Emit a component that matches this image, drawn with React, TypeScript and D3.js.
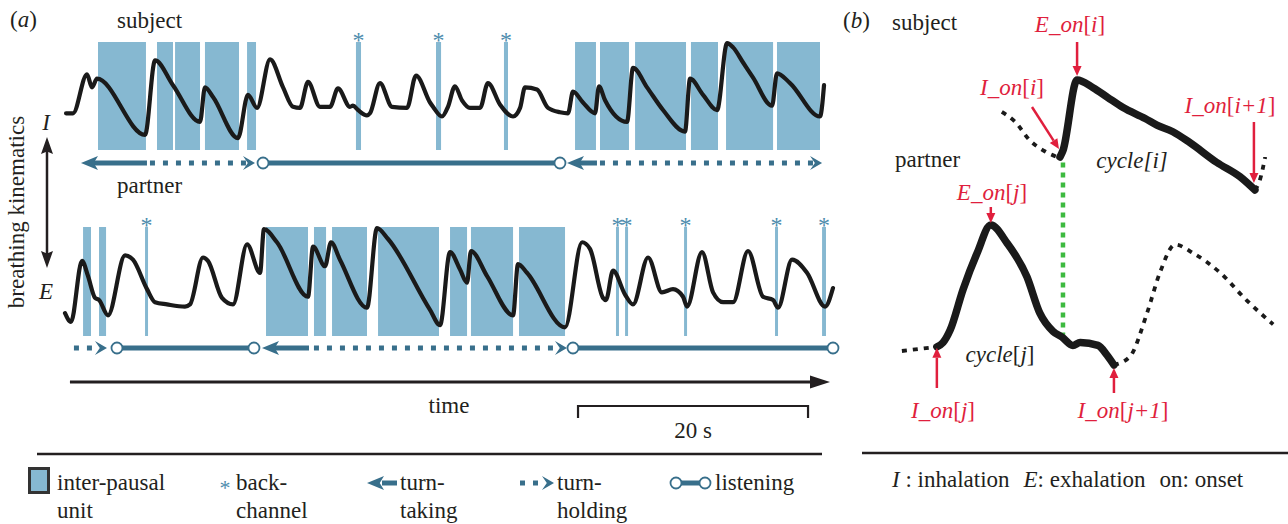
import React from 'react';
import * as d3 from 'd3';

// ---------- DATA : panel (a) ----------
// time in seconds, breathing value normalised 0 (end of exhalation) .. 1 (end of inhalation)
const subjectTrace: [number, number][] = [
  [0.09, 0.34], [0.7, 0.34], [1.91, 0.7], [2.35, 0.58], [2.78, 0.66], [6.96, 0.14], [7.83, 0.83],
  [9.39, 0.6], [11.74, 0.26], [12.17, 0.58], [12.87, 0.49], [15.04, 0.11], [15.91, 0.51], [16.7, 0.39],
  [17.83, 0.84], [18.96, 0.58], [19.83, 0.4], [20.43, 0.39], [21.13, 0.63], [22.17, 0.4], [23.04, 0.4],
  [23.74, 0.57], [24.78, 0.4], [25.04, 0.41], [25.48, 0.37], [26.26, 0.32], [26.52, 0.34], [27.39, 0.62],
  [28.43, 0.4], [29.74, 0.39], [30.52, 0.69], [31.74, 0.44], [32.0, 0.4], [32.78, 0.31], [33.3, 0.4],
  [33.91, 0.59], [34.52, 0.46], [35.22, 0.39], [36.09, 0.39], [36.78, 0.62], [37.83, 0.42], [38.96, 0.31],
  [39.57, 0.39], [40.0, 0.58], [41.04, 0.56], [42.0, 0.39], [43.04, 0.35], [43.74, 0.34], [44.17, 0.54],
  [45.04, 0.44], [46.09, 0.34], [46.43, 0.59], [46.96, 0.46], [48.87, 0.26], [49.39, 0.76], [50.61, 0.58],
  [52.0, 0.37], [53.91, 0.17], [54.35, 0.66], [55.48, 0.51], [56.7, 0.37], [57.57, 0.99], [58.09, 0.95],
  [58.96, 0.81], [59.83, 0.67], [61.48, 0.41], [61.91, 0.71], [63.04, 0.62], [65.65, 0.31], [66.0, 0.6],
];
const partnerTrace: [number, number][] = [
  [0.0, 0.21], [0.52, 0.13], [1.48, 0.69], [2.0, 0.55], [2.61, 0.35], [2.96, 0.33], [3.74, 0.19],
  [5.22, 0.74], [5.91, 0.7], [7.13, 0.43], [7.83, 0.31], [8.87, 0.29], [10.43, 0.27], [10.87, 0.29],
  [12.0, 0.72], [12.43, 0.69], [13.65, 0.35], [14.61, 0.29], [15.83, 0.84], [16.96, 0.58], [17.3, 0.98],
  [18.43, 0.86], [21.13, 0.36], [21.57, 0.82], [22.61, 0.64], [23.13, 0.86], [23.91, 0.7], [26.26, 0.26],
  [27.13, 0.99], [28.09, 0.89], [31.74, 0.24], [32.61, 0.1], [33.48, 0.77], [34.35, 0.61], [34.96, 0.49],
  [35.3, 0.78], [36.7, 0.55], [38.96, 0.19], [39.39, 0.66], [40.17, 0.58], [43.48, 0.08], [44.96, 0.86],
  [45.65, 0.8], [46.78, 0.35], [47.04, 0.33], [47.65, 0.6], [48.7, 0.38], [49.39, 0.29], [50.7, 0.72],
  [51.91, 0.4], [52.87, 0.43], [53.74, 0.36], [54.09, 0.27], [55.39, 0.77], [56.35, 0.4], [57.22, 0.31],
  [58.09, 0.31], [59.39, 0.78], [60.7, 0.36], [61.57, 0.33], [62.0, 0.26], [63.22, 0.7], [64.52, 0.58],
  [66.09, 0.27], [66.78, 0.44],
];
// inter-pausal units [start, end] in s
const subjectIPU: [number, number][] = [
  [2.87, 7.04], [8.0, 9.39], [9.57, 11.74], [12.17, 15.13], [15.83, 16.61],
  [44.35, 46.17], [46.52, 49.04], [49.57, 54.0], [54.43, 56.78], [57.48, 61.57], [61.91, 65.65],
];
const partnerIPU: [number, number][] = [
  [1.57, 2.26], [2.96, 3.57], [17.48, 21.13], [21.65, 22.7], [23.22, 26.26], [27.22, 32.52],
  [33.48, 34.96], [35.3, 38.96], [39.48, 43.48],
];
// back-channels [start, end] in s
const subjectBackchannel: [number, number][] = [[25.3, 25.74], [32.26, 32.7], [38.17, 38.52]];
const partnerBackchannel: [number, number][] = [
  [6.96, 7.22], [47.91, 48.17], [48.7, 48.96], [53.83, 54.09], [61.74, 62.0], [65.83, 66.17],
];
type Turn = { kind: 'taking' | 'holding' | 'listening'; from: number; to: number };
const subjectTurns: Turn[] = [
  { kind: 'taking', from: 7.04, to: 1.39 },
  { kind: 'holding', from: 7.04, to: 16.52 },
  { kind: 'listening', from: 17.22, to: 43.04 },
  { kind: 'taking', from: 46.17, to: 43.65 },
  { kind: 'holding', from: 46.17, to: 65.83 },
];
const partnerTurns: Turn[] = [
  { kind: 'holding', from: 0.43, to: 3.65 },
  { kind: 'listening', from: 4.52, to: 16.43 },
  { kind: 'taking', from: 21.13, to: 17.13 },
  { kind: 'holding', from: 21.3, to: 43.65 },
  { kind: 'listening', from: 44.17, to: 66.78 },
];
const scaleBar: [number, number] = [44.61, 64.61]; // 20 s
const scaleBarLabel = '20 s';

// ---------- DATA : panel (b) ----------
const subjCyclePre: [number, number][] = [[2.68, 0.71], [3.03, 0.62], [3.42, 0.45], [3.82, 0.35], [4.13, 0.3]];
const subjCycle: [number, number][] = [
  [4.21, 0.3], [4.29, 0.36], [4.66, 1.0], [5.08, 0.93], [5.47, 0.84], [5.87, 0.75], [6.45, 0.65], [6.76, 0.59],
  [7.18, 0.53], [7.63, 0.43], [8.34, 0.25], [8.95, 0.12], [9.34, 0.0],
];
const subjCyclePost: [number, number][] = [[9.34, 0.0], [9.47, 0.09], [9.61, 0.3]];
const partCyclePre: [number, number][] = [[0.05, 0.1], [0.97, 0.13]];
const partCycle: [number, number][] = [
  [0.97, 0.13], [1.13, 0.16], [1.32, 0.25], [1.66, 0.54], [2.03, 0.8], [2.39, 1.0], [2.82, 0.87],
  [3.34, 0.63], [3.68, 0.37], [4.03, 0.24], [4.26, 0.2], [4.55, 0.14], [4.74, 0.16], [5.21, 0.14],
  [5.45, 0.07], [5.63, 0.0],
];
const partCyclePost: [number, number][] = [
  [5.63, 0.0], [6.05, 0.06], [6.5, 0.37], [6.84, 0.66], [7.24, 0.86], [7.71, 0.8], [8.42, 0.66],
  [9.13, 0.46], [9.82, 0.29],
];

// ---------- STYLE ----------
const FONT = "'Liberation Serif', 'Times New Roman', 'DejaVu Serif', serif";
const INK = '#231f20';
const IPU_FILL = '#86b8d1';
const TEAL = '#386f8b';
const STAR = '#4d8cad';
const RED = '#e01f3d';
const GREEN = '#3dba3f';

const W = 1288, H = 524;

function arrowHead(tx: number, ty: number, dir: number, L: number, Wd: number, notch = 0.7) {
  return `M${tx},${ty}L${tx - dir * L},${ty - Wd}L${tx - dir * L * notch},${ty}L${tx - dir * L},${ty + Wd}Z`;
}
function vArrowHead(tx: number, ty: number, dir: number, L: number, Wd: number, notch = 1) {
  return `M${tx},${ty}L${tx - Wd},${ty - dir * L}L${tx},${ty - dir * L * notch}L${tx + Wd},${ty - dir * L}Z`;
}

function TurnRow({ turns, y, x }: { turns: Turn[]; y: number; x: (v: number) => number }) {
  return (
    <g>
      {turns.map((s, i) => {
        const x0 = x(s.from), x1 = x(s.to);
        const dir = Math.sign(x1 - x0);
        if (s.kind === 'listening') {
          return (
            <g key={i}>
              <line x1={x0} x2={x1} y1={y} y2={y} stroke={TEAL} strokeWidth={5} />
              <circle cx={x0} cy={y} r={5.5} fill="#fff" stroke={TEAL} strokeWidth={1.8} />
              <circle cx={x1} cy={y} r={5.5} fill="#fff" stroke={TEAL} strokeWidth={1.8} />
            </g>
          );
        }
        if (s.kind === 'taking') {
          return (
            <g key={i}>
              <line x1={x0 - dir * 1} x2={x1 - dir * 10} y1={y} y2={y} stroke={TEAL} strokeWidth={5} />
              <path d={arrowHead(x1, y, dir, 17, 7, 0.75)} fill={TEAL} />
            </g>
          );
        }
        return (
          <g key={i}>
            <line x1={x0 + dir * 4} x2={x1 - dir * 9} y1={y} y2={y} stroke={TEAL} strokeWidth={5}
              strokeDasharray="5 8" />
            <path d={arrowHead(x1, y, dir, 12, 7, 0.6)} fill={TEAL} />
          </g>
        );
      })}
    </g>
  );
}

export default function App() {
  const xA = d3.scaleLinear().domain([0, 66.52]).range([65, 830]);
  const ySubA = d3.scaleLinear().domain([0, 1]).range([150, 42]);
  const yParA = d3.scaleLinear().domain([0, 1]).range([336, 227]);
  const lineSubA = d3.line<[number, number]>().x(d => xA(d[0])).y(d => ySubA(d[1])).curve(d3.curveMonotoneX);
  const lineParA = d3.line<[number, number]>().x(d => xA(d[0])).y(d => yParA(d[1])).curve(d3.curveMonotoneX);

  const xB = d3.scaleLinear().domain([0, 10]).range([900, 1280]);
  const ySubB = d3.scaleLinear().domain([0, 1]).range([190, 80]);
  const yParB = d3.scaleLinear().domain([0, 1]).range([365, 225]);
  const lineSubB = d3.line<[number, number]>().x(d => xB(d[0])).y(d => ySubB(d[1])).curve(d3.curveMonotoneX);
  const lineParB = d3.line<[number, number]>().x(d => xB(d[0])).y(d => yParB(d[1])).curve(d3.curveMonotoneX);

  const T = (props: any) => <text fontFamily={FONT} fontSize={23} fill={INK} {...props} />;

  const ipuRects = (ipus: [number, number][], y: d3.ScaleLinear<number, number>) =>
    ipus.map((d, i) => (
      <rect key={i} x={xA(d[0])} width={xA(d[1]) - xA(d[0])} y={y(1)} height={y(0) - y(1)} fill={IPU_FILL} />
    ));
  const bcMarks = (bcs: [number, number][], y: d3.ScaleLinear<number, number>) =>
    bcs.map((d, i) => (
      <g key={i}>
        <rect x={xA(d[0])} width={xA(d[1]) - xA(d[0])} y={y(1)} height={y(0) - y(1)} fill={IPU_FILL} />
        <text x={xA((d[0] + d[1]) / 2)} y={y(1) + 6} textAnchor="middle" fontFamily={FONT} fontSize={24} fill={STAR}>*</text>
      </g>
    ));

  const pEi: [number, number] = [xB(subjCycle[2][0]), ySubB(subjCycle[2][1])];
  const pIi: [number, number] = [xB(subjCycle[0][0]), ySubB(subjCycle[0][1])];
  const pIi1: [number, number] = [xB(subjCycle[subjCycle.length - 1][0]), ySubB(subjCycle[subjCycle.length - 1][1])];
  const pEj: [number, number] = [xB(partCycle[5][0]), yParB(partCycle[5][1])];
  const pIj: [number, number] = [xB(partCycle[0][0]), yParB(partCycle[0][1])];
  const pIj1: [number, number] = [xB(partCycle[partCycle.length - 1][0]), yParB(partCycle[partCycle.length - 1][1])];

  const redArrow = (x1: number, y1: number, x2: number, y2: number, key: string) => {
    const ang = Math.atan2(y2 - y1, x2 - x1);
    const L = 10, Wd = 4.5;
    const bx = x2 - L * Math.cos(ang), by = y2 - L * Math.sin(ang);
    const px = -Math.sin(ang) * Wd, py = Math.cos(ang) * Wd;
    return (
      <g key={key}>
        <line x1={x1} y1={y1} x2={bx} y2={by} stroke={RED} strokeWidth={2.5} />
        <path d={`M${x2},${y2}L${bx + px},${by + py}L${bx - px},${by - py}Z`} fill={RED} />
      </g>
    );
  };

  const it = (s: string) => <tspan fontStyle="italic">{s}</tspan>;

  return (
    <svg width={W} height={H} style={{ position: 'absolute', left: 0, top: 0, background: '#fff' }}>
      <rect width={W} height={H} fill="#fff" />
      {/* ---------------- panel (a) ---------------- */}
      <T x={10} y={27}>({it('a')})</T>
      <T x={117} y={28}>subject</T>
      <T x={117} y={193}>partner</T>

      {ipuRects(subjectIPU, ySubA)}
      {bcMarks(subjectBackchannel, ySubA)}
      {ipuRects(partnerIPU, yParA)}
      {bcMarks(partnerBackchannel, yParA)}

      <path d={lineSubA(subjectTrace) || ''} fill="none" stroke="#1a1a1a" strokeWidth={4.2} strokeLinejoin="round" strokeLinecap="round" />
      <path d={lineParA(partnerTrace) || ''} fill="none" stroke="#1a1a1a" strokeWidth={4.2} strokeLinejoin="round" strokeLinecap="round" />

      <TurnRow turns={subjectTurns} y={163} x={xA} />
      <TurnRow turns={partnerTurns} y={348} x={xA} />

      <text transform="translate(24,212) rotate(-90)" textAnchor="middle" fontFamily={FONT} fontSize={23} fill={INK}>breathing kinematics</text>
      <T x={46} y={130} textAnchor="middle" fontStyle="italic">I</T>
      <T x={46} y={299} textAnchor="middle" fontStyle="italic">E</T>
      <line x1={47} x2={47} y1={150} y2={255} stroke={INK} strokeWidth={2.5} />
      <path d={vArrowHead(47, 137, -1, 17, 6, 0.85)} fill={INK} />
      <path d={vArrowHead(47, 268, 1, 17, 6, 0.85)} fill={INK} />

      <line x1={xA(0.43)} x2={xA(66.52) - 15} y1={382} y2={382} stroke={INK} strokeWidth={3.2} />
      <path d={arrowHead(xA(66.52), 382, 1, 20, 6.5, 1)} fill={INK} />
      <T x={449} y={413} textAnchor="middle">time</T>
      <path d={`M${xA(scaleBar[0])},418V406H${xA(scaleBar[1])}V418`} fill="none" stroke={INK} strokeWidth={2.2} />
      <T x={(xA(scaleBar[0]) + xA(scaleBar[1])) / 2} y={438} textAnchor="middle">{scaleBarLabel}</T>

      <line x1={37} x2={822} y1={454} y2={454} stroke={INK} strokeWidth={2.5} />

      {/* legend */}
      <rect x={29.5} y={468.5} width={19} height={24} fill={IPU_FILL} stroke="#333" strokeWidth={3} />
      <T x={57} y={490}>inter-pausal</T>
      <T x={57} y={518}>unit</T>
      <text x={225} y={495} textAnchor="middle" fontFamily={FONT} fontSize={22} fill={STAR}>*</text>
      <T x={236} y={490}>back-</T>
      <T x={236} y={518}>channel</T>
      <line x1={382} x2={397} y1={483} y2={483} stroke={TEAL} strokeWidth={5} />
      <path d={arrowHead(367, 483, -1, 17, 7, 0.75)} fill={TEAL} />
      <T x={400} y={490}>turn-</T>
      <T x={400} y={518}>taking</T>
      <line x1={520} x2={544} y1={483} y2={483} stroke={TEAL} strokeWidth={5} strokeDasharray="5 8" />
      <path d={arrowHead(554, 483, 1, 12, 7, 0.6)} fill={TEAL} />
      <T x={557} y={490}>turn-</T>
      <T x={557} y={518}>holding</T>
      <line x1={676} x2={705} y1={483} y2={483} stroke={TEAL} strokeWidth={5} />
      <circle cx={676} cy={483} r={5.5} fill="#fff" stroke={TEAL} strokeWidth={1.8} />
      <circle cx={705} cy={483} r={5.5} fill="#fff" stroke={TEAL} strokeWidth={1.8} />
      <T x={715} y={490}>listening</T>

      {/* ---------------- panel (b) ---------------- */}
      <T x={843} y={28}>({it('b')})</T>
      <T x={892} y={30}>subject</T>
      <T x={895} y={167}>partner</T>

      <line x1={pIi[0] + 3} x2={pIi[0] + 3} y1={ySubB(0.25)} y2={yParB(0.2)} stroke={GREEN} strokeWidth={4.5} strokeDasharray="5 5" />

      <path d={lineSubB(subjCyclePre) || ''} fill="none" stroke="#1a1a1a" strokeWidth={3.8} strokeDasharray="5 6" />
      <path d={lineSubB(subjCyclePost) || ''} fill="none" stroke="#1a1a1a" strokeWidth={3.8} strokeDasharray="5 6" />
      <path d={lineSubB(subjCycle) || ''} fill="none" stroke="#1a1a1a" strokeWidth={7.5} strokeLinejoin="round" strokeLinecap="round" />
      <path d={lineParB(partCyclePre) || ''} fill="none" stroke="#1a1a1a" strokeWidth={3.8} strokeDasharray="5 6" />
      <path d={lineParB(partCyclePost) || ''} fill="none" stroke="#1a1a1a" strokeWidth={3.8} strokeDasharray="5 6" />
      <path d={lineParB(partCycle) || ''} fill="none" stroke="#1a1a1a" strokeWidth={7.5} strokeLinejoin="round" strokeLinecap="round" />

      <T x={1132} y={168} fontStyle="italic" textAnchor="middle">cycle[i]</T>
      <T x={1000} y={362} textAnchor="middle">{it('cycle')}[{it('j')}]</T>

      {redArrow(pEi[0], 42, pEi[0], pEi[1] - 4, 'a1')}
      <T x={1070} y={32} textAnchor="middle" fill={RED}>{it('E_on')}[{it('i')}]</T>
      {redArrow(1032, 107, pIi[0] - 1, pIi[1] - 8, 'a2')}
      <T x={1012} y={95} textAnchor="middle" fill={RED}>{it('I_on')}[{it('i')}]</T>
      {redArrow(pIi1[0] - 1, 122, pIi1[0] - 1, pIi1[1] - 7, 'a3')}
      <T x={1230} y={113} textAnchor="middle" fill={RED}>{it('I_on')}[{it('i+1')}]</T>
      {redArrow(pEj[0], 207, pEj[0], pEj[1] - 2, 'a4')}
      <T x={992} y={200} textAnchor="middle" fill={RED}>{it('E_on')}[{it('j')}]</T>
      {redArrow(pIj[0], 388, pIj[0], pIj[1] + 1, 'a5')}
      <T x={943} y={418} textAnchor="middle" fill={RED}>{it('I_on')}[{it('j')}]</T>
      {redArrow(pIj1[0], 393, pIj1[0], pIj1[1] + 3, 'a6')}
      <T x={1123} y={418} textAnchor="middle" fill={RED}>{it('I_on')}[{it('j+1')}]</T>

      <line x1={862} x2={1288} y1={453} y2={453} stroke={INK} strokeWidth={2.5} />
      <T x={892} y={487}>
        {it('I')}<tspan> : inhalation</tspan><tspan dx={14} fontStyle="italic">E</tspan><tspan>: exhalation</tspan><tspan dx={14}>on: onset</tspan>
      </T>
    </svg>
  );
}
